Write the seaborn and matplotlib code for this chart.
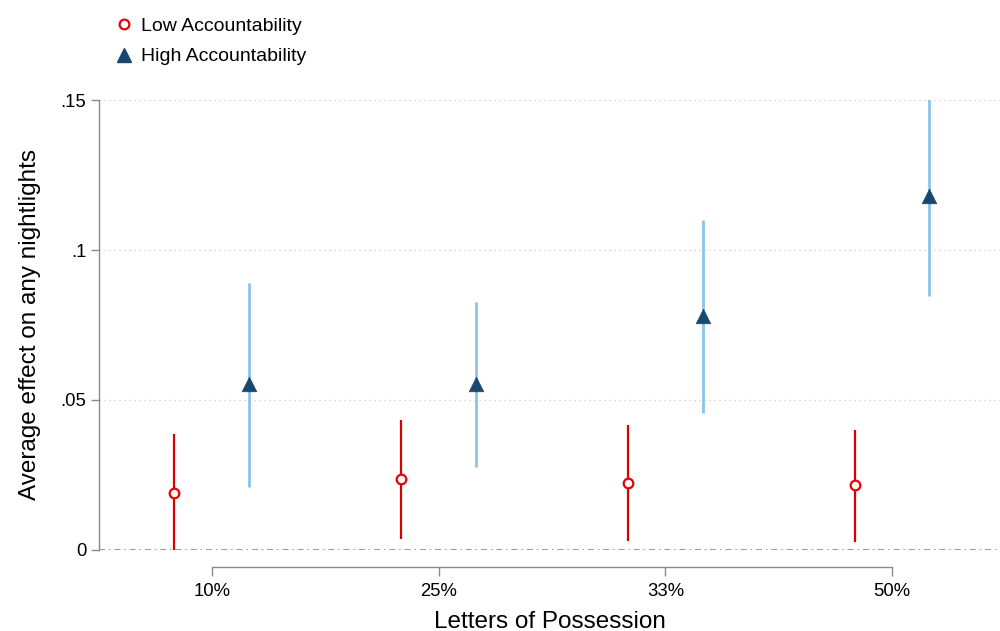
import numpy as np
import pandas as pd
import seaborn as sns
import matplotlib
matplotlib.use('Agg')
import matplotlib.pyplot as plt
from matplotlib.lines import Line2D

# values
categories = ['10%', '25%', '33%', '50%']
low_est = [0.019, 0.0235, 0.0223, 0.0217]
low_lo = [-0.0005, 0.0037, 0.0030, 0.0027]
low_hi = [0.0385, 0.0432, 0.0415, 0.0400]
high_est = [0.0553, 0.0553, 0.0780, 0.1180]
high_lo = [0.0210, 0.0277, 0.0455, 0.0845]
high_hi = [0.0890, 0.0825, 0.1100, 0.1510]
y_ticks = [0, 0.05, 0.1, 0.15]
y_ticklabels = ['0', '.05', '.1', '.15']

sns.set_theme(style='white')
plt.rcParams['font.family'] = ['Liberation Sans', 'DejaVu Sans']
plt.rcParams['text.color'] = 'black'
plt.rcParams['axes.labelcolor'] = 'black'

red = '#e8000b'
red_ci = '#d90000'
navy = '#1a476f'
ltblue = '#8cc4ea'
grey = '#8a8a8a'

df = pd.concat([
    pd.DataFrame({'cat': categories, 'est': low_est, 'lo': low_lo, 'hi': low_hi,
                  'group': 'Low Accountability'}),
    pd.DataFrame({'cat': categories, 'est': high_est, 'lo': high_lo, 'hi': high_hi,
                  'group': 'High Accountability'}),
], ignore_index=True)
offsets = {'Low Accountability': -0.165, 'High Accountability': 0.165}
df['x'] = df['cat'].map({c: i for i, c in enumerate(categories)}) + df['group'].map(offsets)

fig = plt.figure(figsize=(10, 6.31), dpi=100)
ax = fig.add_axes([0.099, 0.1284, 0.901, 0.7131])

# grid and zero line
for t in y_ticks[1:]:
    ax.axhline(t, color='#c8c8c8', lw=0.9, ls=(0, (1, 3)), zorder=0)
ax.axhline(0, color='#7f7f7f', lw=1.1, ls=(0, (4, 2.5, 1, 2.5)), zorder=1)

low = df[df['group'] == 'Low Accountability']
high = df[df['group'] == 'High Accountability']
ax.vlines(low['x'], low['lo'], low['hi'], color=red_ci, lw=1.6, zorder=2)
ax.vlines(high['x'], high['lo'], high['hi'], color=ltblue, lw=2.0, zorder=2)

sns.scatterplot(data=low, x='x', y='est', marker='o', s=48, facecolor='white',
                edgecolor=red, linewidth=1.6, ax=ax, zorder=3, legend=False)
sns.scatterplot(data=high, x='x', y='est', marker='^', s=110, color=navy,
                edgecolor=navy, linewidth=0.5, ax=ax, zorder=3, legend=False)

ax.set_xlim(-0.498, 3.476)
ax.set_ylim(0, 0.15)
ax.set_xticks(range(len(categories)))
ax.set_xticklabels(categories)
ax.set_yticks(y_ticks)
ax.set_yticklabels(y_ticklabels)

for s in ['top', 'right']:
    ax.spines[s].set_visible(False)
ax.spines['left'].set_color(grey)
ax.spines['left'].set_linewidth(1.0)
ax.spines['bottom'].set_color(grey)
ax.spines['bottom'].set_linewidth(1.0)
ax.spines['bottom'].set_position(('outward', 12))
ax.spines['bottom'].set_bounds(0, 3)
ax.tick_params(axis='both', which='both', direction='out', color=grey,
               labelsize=13.3, labelcolor='black', bottom=True, left=True)
ax.tick_params(axis='x', length=6.5, width=1.0, pad=5)
ax.tick_params(axis='y', length=6, width=1.0, pad=3)

ax.set_xlabel('Letters of Possession', fontsize=17.5, labelpad=8)
ax.set_ylabel('Average effect on any nightlights', fontsize=17.5, labelpad=14)

handles = [
    Line2D([], [], ls='none', marker='o', ms=7, mfc='white', mec=red, mew=1.6),
    Line2D([], [], ls='none', marker='^', ms=10, mfc=navy, mec=navy),
]
fig.legend(handles, ['Low Accountability', 'High Accountability'], loc='upper left',
           bbox_to_anchor=(0.099, 0.997), frameon=False, fontsize=14,
           handlelength=1.0, handletextpad=0.35, labelspacing=0.65, borderpad=0.3)

fig.savefig('out.png', dpi=100)
